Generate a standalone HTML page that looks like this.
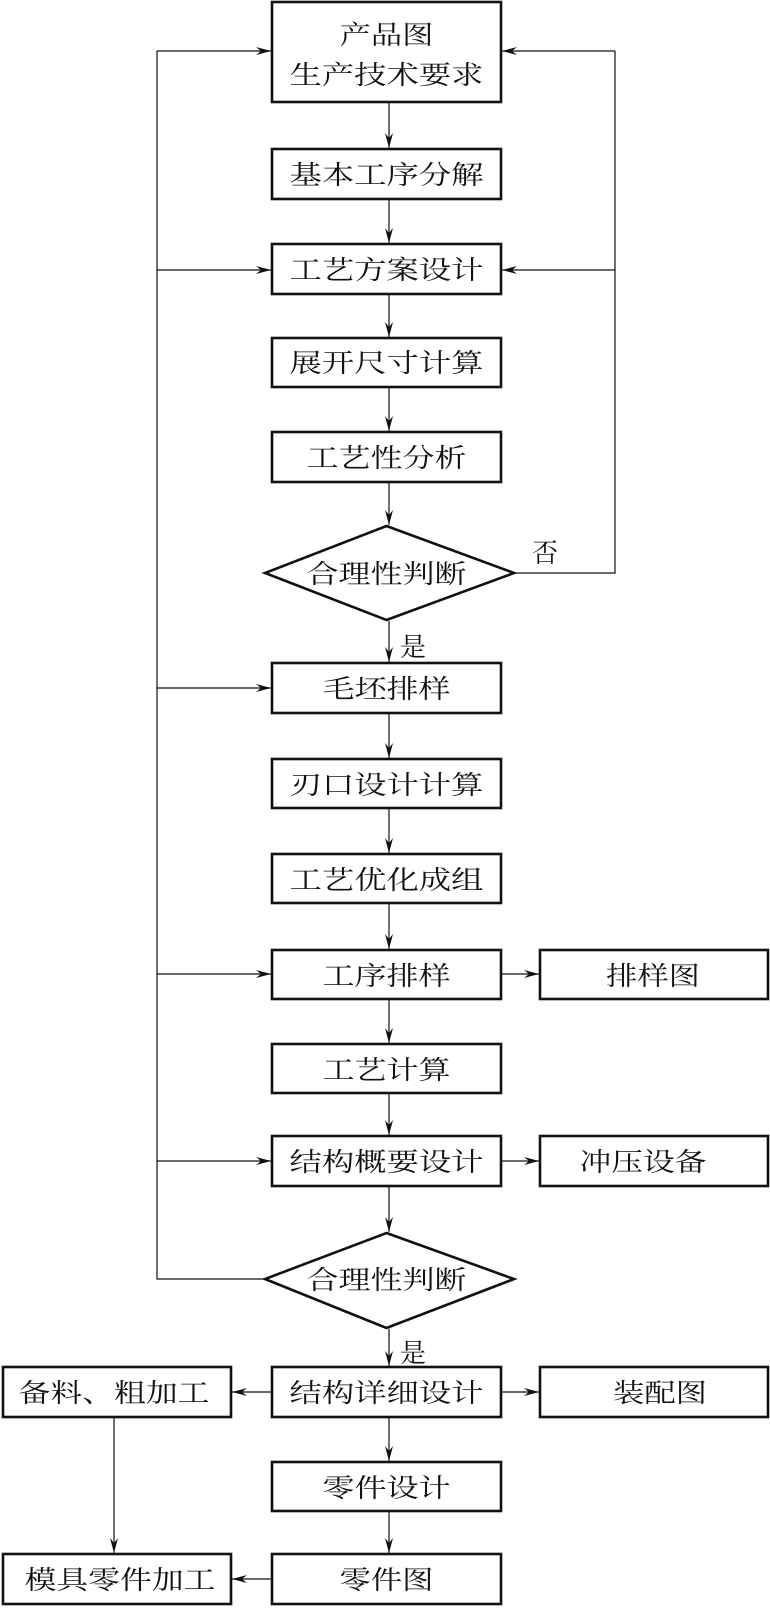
<!DOCTYPE html>
<html><head><meta charset="utf-8"><style>
html,body{margin:0;padding:0;background:#fff}
svg{display:block}
text{font-family:"Liberation Serif","Noto Serif CJK SC","Noto Sans CJK SC",serif;font-size:26px;fill:#111}
</style></head><body>
<svg width="770" height="1614" viewBox="0 0 770 1614" xmlns="http://www.w3.org/2000/svg">
<defs>
<marker id="a" markerWidth="16" markerHeight="10" refX="15" refY="5" orient="auto" markerUnits="userSpaceOnUse">
<path d="M0,1 L15,5 L0,9 L5,5 z" fill="#111"/>
</marker>
</defs>
<g fill="none" stroke="#111" stroke-width="2.6">
<rect x="272" y="2" width="229" height="100"/>
<rect x="272" y="149" width="229" height="50"/>
<rect x="272" y="244" width="229" height="50"/>
<rect x="272" y="338" width="229" height="49"/>
<rect x="272" y="432" width="229" height="50"/>
<polygon points="386.5,526 514,573 386.5,620 265,573"/>
<rect x="272" y="663" width="229" height="50"/>
<rect x="272" y="759" width="229" height="49"/>
<rect x="272" y="854" width="229" height="49"/>
<rect x="272" y="950" width="229" height="49"/>
<rect x="540" y="950" width="228" height="49"/>
<rect x="272" y="1044" width="229" height="49"/>
<rect x="272" y="1136" width="229" height="50"/>
<rect x="540" y="1136" width="228" height="50"/>
<polygon points="386.5,1233 514,1279 386.5,1328 265,1279"/>
<rect x="272" y="1367" width="229" height="50"/>
<rect x="3" y="1367" width="228" height="50"/>
<rect x="540" y="1367" width="228" height="50"/>
<rect x="272" y="1462" width="229" height="49"/>
<rect x="272" y="1554" width="229" height="50"/>
<rect x="3" y="1554" width="228" height="50"/>
</g>
<g fill="none" stroke="#111" stroke-width="1.2" marker-end="url(#a)">
<line x1="389" y1="103" x2="389" y2="148"/>
<line x1="389" y1="200" x2="389" y2="243"/>
<line x1="389" y1="295" x2="389" y2="337"/>
<line x1="389" y1="388" x2="389" y2="431"/>
<line x1="389" y1="483" x2="389" y2="525"/>
<line x1="389" y1="621" x2="389" y2="662"/>
<line x1="389" y1="714" x2="389" y2="758"/>
<line x1="389" y1="809" x2="389" y2="853"/>
<line x1="389" y1="904" x2="389" y2="949"/>
<line x1="389" y1="1000" x2="389" y2="1043"/>
<line x1="389" y1="1094" x2="389" y2="1135"/>
<line x1="389" y1="1187" x2="389" y2="1232"/>
<line x1="389" y1="1329" x2="389" y2="1366"/>
<line x1="389" y1="1418" x2="389" y2="1461"/>
<line x1="389" y1="1512" x2="389" y2="1553"/>
<line x1="157" y1="51" x2="271" y2="51"/>
<line x1="157" y1="270" x2="271" y2="270"/>
<line x1="157" y1="688" x2="271" y2="688"/>
<line x1="157" y1="974" x2="271" y2="974"/>
<line x1="157" y1="1161" x2="271" y2="1161"/>
<line x1="615" y1="51" x2="502" y2="51"/>
<line x1="615" y1="270" x2="502" y2="270"/>
<line x1="502" y1="974" x2="539" y2="974"/>
<line x1="502" y1="1161" x2="539" y2="1161"/>
<line x1="502" y1="1392" x2="539" y2="1392"/>
<line x1="271" y1="1392" x2="232" y2="1392"/>
<line x1="271" y1="1579" x2="232" y2="1579"/>
<line x1="114" y1="1418" x2="114" y2="1553"/>
</g>
<g fill="none" stroke="#111" stroke-width="1.2">
<polyline points="265,1279 157,1279 157,51"/>
<polyline points="514,573 615,573 615,51"/>
</g>
<g text-anchor="middle">
<text x="386.5" y="44" textLength="94" lengthAdjust="spacingAndGlyphs">产品图</text>
<text x="386.5" y="84" textLength="194" lengthAdjust="spacingAndGlyphs">生产技术要求</text>
<text x="386.5" y="184" textLength="194" lengthAdjust="spacingAndGlyphs">基本工序分解</text>
<text x="386.5" y="279" textLength="194" lengthAdjust="spacingAndGlyphs">工艺方案设计</text>
<text x="386.5" y="372" textLength="194" lengthAdjust="spacingAndGlyphs">展开尺寸计算</text>
<text x="386.5" y="467" textLength="160" lengthAdjust="spacingAndGlyphs">工艺性分析</text>
<text x="386.5" y="583" textLength="160" lengthAdjust="spacingAndGlyphs">合理性判断</text>
<text x="386.5" y="698" textLength="128" lengthAdjust="spacingAndGlyphs">毛坯排样</text>
<text x="386.5" y="794" textLength="194" lengthAdjust="spacingAndGlyphs">刃口设计计算</text>
<text x="386.5" y="889" textLength="194" lengthAdjust="spacingAndGlyphs">工艺优化成组</text>
<text x="386.5" y="985" textLength="128" lengthAdjust="spacingAndGlyphs">工序排样</text>
<text x="653" y="985" textLength="94" lengthAdjust="spacingAndGlyphs">排样图</text>
<text x="386.5" y="1079" textLength="128" lengthAdjust="spacingAndGlyphs">工艺计算</text>
<text x="386.5" y="1171" textLength="194" lengthAdjust="spacingAndGlyphs">结构概要设计</text>
<text x="643" y="1171" textLength="127" lengthAdjust="spacingAndGlyphs">冲压设备</text>
<text x="386.5" y="1289" textLength="160" lengthAdjust="spacingAndGlyphs">合理性判断</text>
<text x="386.5" y="1402" textLength="194" lengthAdjust="spacingAndGlyphs">结构详细设计</text>
<text x="114" y="1402" textLength="191" lengthAdjust="spacingAndGlyphs">备料、粗加工</text>
<text x="660" y="1402" textLength="94" lengthAdjust="spacingAndGlyphs">装配图</text>
<text x="386.5" y="1497" textLength="128" lengthAdjust="spacingAndGlyphs">零件设计</text>
<text x="386.5" y="1589" textLength="94" lengthAdjust="spacingAndGlyphs">零件图</text>
<text x="120" y="1589" textLength="191" lengthAdjust="spacingAndGlyphs">模具零件加工</text>
<text x="545" y="562">否</text>
<text x="413" y="656">是</text>
<text x="413" y="1362">是</text>
</g>
</svg>
</body></html>
